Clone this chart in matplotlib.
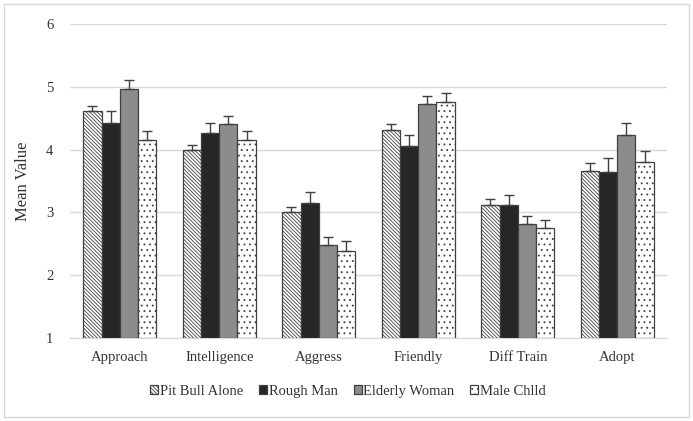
import numpy as np
import matplotlib
matplotlib.use("Agg")
import matplotlib.pyplot as plt
from matplotlib.patches import Rectangle

categories = ["Approach", "Intelligence", "Aggress", "Friendly", "Diff Train", "Adopt"]
groups = ["Pit Bull Alone", "Rough Man", "Elderly Woman", "Male Chlld"]

# mean values per condition, one entry per category
pit_bull = [4.61, 3.99, 3.00, 4.32, 3.12, 3.66]
rough_man = [4.43, 4.27, 3.15, 4.06, 3.12, 3.65]
elderly_woman = [4.96, 4.40, 2.48, 4.72, 2.81, 4.23]
male_child = [4.16, 4.16, 2.39, 4.76, 2.75, 3.81]

# upper error bars
pit_bull_err = [0.09, 0.09, 0.09, 0.09, 0.09, 0.12]
rough_man_err = [0.18, 0.15, 0.17, 0.17, 0.16, 0.21]
elderly_woman_err = [0.15, 0.13, 0.13, 0.13, 0.13, 0.19]
male_child_err = [0.14, 0.14, 0.16, 0.14, 0.13, 0.17]

plt.rcParams['font.family'] = ['Liberation Serif', 'DejaVu Serif']
plt.rcParams['hatch.linewidth'] = 0.6
plt.rcParams['hatch.color'] = '#404040'

fig = plt.figure(figsize=(6.93, 4.21), dpi=100)
ax = fig.add_axes([0.101, 0.197, 0.8615, 0.746])

# light frame round the whole figure
fig.patches.append(Rectangle((0.006, 0.01), 0.988, 0.98, transform=fig.transFigure,
                             fill=False, edgecolor='#d9d9d9', linewidth=1.0))

series = [pit_bull, rough_man, elderly_woman, male_child]
errors = [pit_bull_err, rough_man_err, elderly_woman_err, male_child_err]
faces = ['white', '#262626', '#8c8c8c', 'white']
hatches = ['\\' * 9, None, None, '...']
edge = '#404040'

x = np.arange(len(categories))
width = 0.183
for i, (vals, err) in enumerate(zip(series, errors)):
    pos = x + (i - 1.5) * width
    heights = np.array(vals) - 1
    ax.bar(pos, heights, width, bottom=1, color=faces[i], edgecolor=edge,
           linewidth=0.9, hatch=hatches[i], label=groups[i], zorder=3)
    ax.errorbar(pos, vals, yerr=[np.zeros(len(err)), err], fmt='none',
                ecolor='#404040', elinewidth=1.0, capsize=3.5, capthick=1.0, zorder=4)

ax.set_ylim(1, 6)
ax.set_xlim(-0.5, len(categories) - 0.5)
ax.set_yticks([1, 2, 3, 4, 5, 6])
ax.set_xticks(x)
ax.set_xticklabels(categories)
ax.tick_params(axis='both', length=0, labelsize=10.5, colors='#333333')
ax.tick_params(axis='y', pad=12)
ax.tick_params(axis='x', pad=9)
ax.yaxis.grid(True, color='#d9d9d9', linewidth=1.0, zorder=0)
ax.set_axisbelow(True)
for s in ['left', 'right', 'top']:
    ax.spines[s].set_visible(False)
ax.spines['bottom'].set_color('#d9d9d9')
ax.set_ylabel('Mean Value', fontsize=12, color='#333333', labelpad=11)

fig.legend(loc='center', bbox_to_anchor=(0.502, 0.07), ncol=4, frameon=False,
           fontsize=10.5, handlelength=0.55, handleheight=0.55, handletextpad=0.1,
           columnspacing=1.1, labelcolor='#333333')

fig.savefig('out.png', dpi=100)
